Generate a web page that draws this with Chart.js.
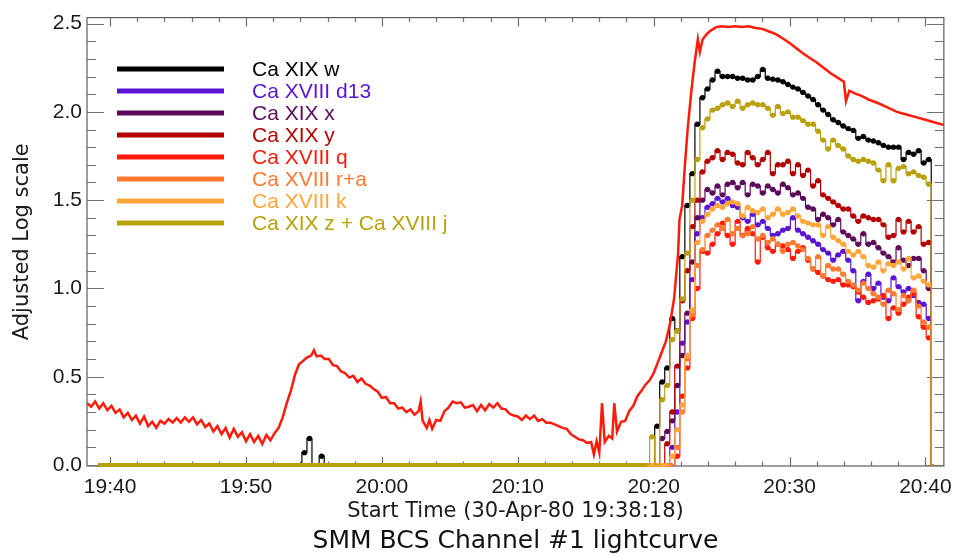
<!DOCTYPE html>
<html>
<head>
<meta charset="utf-8">
<script src="https://cdn.jsdelivr.net/npm/chart.js@4.4.1/dist/chart.umd.min.js"></script>
<style>
  html, body { margin: 0; padding: 0; background: #fff; }
  canvas { display: block; }
</style>
</head>
<body>
<canvas id="lightcurve" width="961" height="554"></canvas>
<script>
// all times are minutes after 19:00 UT
const binTimes = [
  79.15, 79.52, 79.89, 80.26, 80.63, 81.00, 81.37, 81.74, 82.11, 82.48,
  82.85, 83.22, 83.59, 83.96, 84.33, 84.70, 85.07, 85.44, 85.81, 86.18,
  86.55, 86.92, 87.29, 87.66, 88.03, 88.40, 88.77, 89.14, 89.51, 89.88,
  90.25, 90.62, 90.99, 91.36, 91.73, 92.10, 92.47, 92.84, 93.21, 93.58,
  93.95, 94.32, 94.69, 95.06, 95.43, 95.80, 96.17, 96.54, 96.91, 97.28,
  97.65, 98.02, 98.39, 98.76, 99.13, 99.50, 99.87, 100.24, 100.61
];

const caXIXw = [
  0, 0, 0, 0.22, 0.47, 0.55, 0.83, 0.76, 1.18, 1.47,
  1.65, 1.93, 2.08, 2.13, 2.18, 2.23, 2.20, 2.20, 2.20, 2.19,
  2.19, 2.18, 2.18, 2.20, 2.24, 2.19, 2.185, 2.18, 2.17, 2.155,
  2.14, 2.13, 2.11, 2.09, 2.07, 2.04, 2.01, 1.985, 1.955, 1.94,
  1.92, 1.905, 1.895, 1.85, 1.86, 1.84, 1.835, 1.825, 1.81, 1.80,
  1.80, 1.80, 1.73, 1.77, 1.76, 1.78, 1.71, 1.73, 0
];
const caXVIIId13 = [
  0, 0, 0, 0, 0, 0, 0.10, 0.30, 0.69, 0.81,
  1.05, 1.31, 1.40, 1.46, 1.48, 1.51, 1.49, 1.51, 1.47, 1.46,
  1.40, 1.38, 1.42, 1.36, 1.38, 1.34, 1.30, 1.31, 1.33, 1.34,
  1.40, 1.33, 1.31, 1.29, 1.27, 1.25, 1.22, 1.20, 1.16, 1.19,
  1.21, 1.16, 1.10, 0.93, 1.04, 1.08, 1.00, 1.03, 0.95, 0.93,
  1.06, 1.01, 0.98, 1.00, 0.96, 0.92, 0.91, 0.83, 0
];
const caXIXx = [
  0, 0, 0, 0, 0.15, 0.19, 0.25, 0.45, 0.62, 0.86,
  1.15, 1.40, 1.50, 1.56, 1.54, 1.58, 1.53, 1.59, 1.60, 1.57,
  1.60, 1.53, 1.59, 1.58, 1.54, 1.58, 1.56, 1.54, 1.59, 1.57,
  1.53, 1.54, 1.51, 1.46, 1.45, 1.39, 1.42, 1.40, 1.36, 1.39,
  1.32, 1.30, 1.28, 1.25, 1.31, 1.25, 1.26, 1.23, 1.20, 1.18,
  1.15, 1.23, 1.16, 1.13, 1.17, 1.17, 1.10, 1.00, 0
];
const caXIXy = [
  0, 0, 0, 0, 0, 0.12, 0.30, 0.56, 0.93, 1.10,
  1.35, 1.50, 1.66, 1.72, 1.74, 1.78, 1.73, 1.77, 1.76, 1.71,
  1.70, 1.77, 1.74, 1.70, 1.73, 1.77, 1.65, 1.70, 1.70, 1.72,
  1.65, 1.70, 1.64, 1.67, 1.58, 1.61, 1.53, 1.51, 1.49, 1.47,
  1.45, 1.45, 1.41, 1.38, 1.41, 1.40, 1.39, 1.39, 1.36, 1.29,
  1.30, 1.39, 1.32, 1.38, 1.32, 1.35, 1.25, 1.26, 0
];
const caXVIIIq = [
  0, 0, 0, 0, 0, 0, 0, 0.05, 0.39, 0.55,
  0.83, 1.00, 1.21, 1.20, 1.25, 1.31, 1.37, 1.30, 1.25, 1.38,
  1.30, 1.34, 1.31, 1.15, 1.29, 1.23, 1.21, 1.25, 1.24, 1.22,
  1.17, 1.21, 1.23, 1.16, 1.11, 1.09, 1.07, 1.05, 1.04, 1.05,
  1.02, 1.02, 1.01, 0.98, 0.95, 0.92, 0.93, 0.94, 0.96, 0.83,
  0.89, 0.86, 0.91, 0.95, 0.97, 0.84, 0.78, 0.72, 0
];
const caXVIIIra = [
  0, 0, 0, 0, 0, 0, 0, 0.10, 0.30, 0.60,
  0.85, 1.13, 1.22, 1.30, 1.33, 1.36, 1.34, 1.39, 1.31, 1.34,
  1.30, 1.31, 1.35, 1.28, 1.30, 1.26, 1.28, 1.25, 1.21, 1.25,
  1.26, 1.24, 1.22, 1.17, 1.11, 1.18, 1.07, 1.13, 1.11, 1.11,
  1.08, 1.04, 1.02, 0.99, 1.03, 1.00, 0.97, 0.95, 0.91, 0.99,
  0.97, 0.88, 0.96, 0.93, 0.99, 0.90, 0.81, 0.78, 0
];
const caXVIIIk = [
  0, 0, 0, 0, 0, 0, 0.05, 0.20, 0.34, 0.62,
  0.88, 1.26, 1.38, 1.42, 1.45, 1.47, 1.46, 1.48, 1.49, 1.48,
  1.41, 1.46, 1.44, 1.43, 1.45, 1.40, 1.42, 1.45, 1.42, 1.43,
  1.45, 1.41, 1.38, 1.37, 1.36, 1.36, 1.30, 1.35, 1.29, 1.27,
  1.25, 1.21, 1.19, 1.21, 1.18, 1.13, 1.12, 1.15, 1.10, 1.14,
  1.13, 1.15, 1.11, 1.17, 1.06, 1.07, 1.04, 1.02, 0
];
const caXIXzj = [
  0, 0, 0.16, 0, 0.37, 0.45, 0.71, 0.76, 0.94, 1.20,
  1.50, 1.73, 1.91, 1.96, 2.01, 2.02, 2.04, 2.05, 2.03, 2.06,
  2.02, 2.04, 2.05, 2.04, 2.04, 2.02, 1.98, 2.03, 1.99, 2.00,
  1.97, 1.97, 1.95, 1.93, 1.93, 1.89, 1.84, 1.79, 1.84, 1.81,
  1.79, 1.75, 1.73, 1.72, 1.73, 1.72, 1.71, 1.67, 1.61, 1.70,
  1.61, 1.68, 1.69, 1.65, 1.66, 1.64, 1.63, 1.59, 0
];

const lineLabels = ['Ca XIX w', 'Ca XVIII d13', 'Ca XIX x', 'Ca XIX y',
  'Ca XVIII q', 'Ca XVIII r+a', 'Ca XVIII k', 'Ca XIX z + Ca XVIII j'];
const lineColors = ['#000000', '#5a14d6', '#5c0b5c', '#b30000',
  '#ff1a0a', '#ff7a30', '#ffa63a', '#b9a10c'];
const lineSeries = [caXIXw, caXVIIId13, caXIXx, caXIXy,
  caXVIIIq, caXVIIIra, caXVIIIk, caXIXzj];

// counts seen in w before the flare, and where the series begin
const seriesStart = 39.16;
const wEarlyTimes = [53.93, 54.30, 54.67, 55.04, 55.20, 55.57, 55.94];
const wEarlyVals = [0, 0.07, 0.15, 0, 0, 0.05, 0];

// the continuous red curve
const contTimes = [
  38.3, 38.6, 38.9, 39.2, 39.5, 39.8, 40.1, 40.4, 40.7, 41.0,
  41.3, 41.6, 41.9, 42.2, 42.5, 42.8, 43.1, 43.4, 43.7, 44.0,
  44.3, 44.6, 44.9, 45.2, 45.5, 45.8, 46.1, 46.4, 46.7, 47.0,
  47.3, 47.6, 47.9, 48.2, 48.5, 48.8, 49.1, 49.4, 49.7, 50.0,
  50.3, 50.6, 50.9, 51.2, 51.5, 51.8, 52.1, 52.4, 52.7, 53.0,
  53.3, 53.6, 53.9, 54.2, 54.5, 54.8, 55.0, 55.2, 55.5, 55.8,
  56.1, 56.4, 56.7, 57.0, 57.3, 57.6, 57.9, 58.2, 58.5, 58.8,
  59.1, 59.4, 59.7, 60.0, 60.3, 60.6, 60.9, 61.2, 61.5, 61.8,
  62.1, 62.4, 62.7, 62.85, 63.0, 63.3, 63.5, 63.7, 64.0, 64.3,
  64.6, 64.9, 65.2, 65.5, 65.8, 66.1, 66.4, 66.7, 67.0, 67.3,
  67.6, 67.9, 68.2, 68.5, 68.8, 69.1, 69.4, 69.7, 70.0, 70.3,
  70.6, 70.9, 71.2, 71.5, 71.8, 72.1, 72.4, 72.7, 73.0, 73.3,
  73.6, 73.9, 74.2, 74.5, 74.8, 75.1, 75.4, 75.6, 75.8, 76.0,
  76.2, 76.4, 76.7, 76.95, 77.1, 77.3, 77.6, 77.9, 78.2, 78.5,
  78.8, 79.1, 79.4, 79.7, 80.0, 80.3, 80.6, 80.9, 81.2, 81.5,
  81.8, 81.9, 82.1, 82.3, 82.5, 82.75, 83.0, 83.25, 83.4, 83.6,
  83.9, 84.2, 84.6, 85.0, 85.5, 86.0, 86.5, 87.0, 87.5, 88.0,
  88.5, 89.0, 89.5, 90.0, 90.5, 91.0, 91.5, 92.0, 92.5, 93.0,
  93.5, 94.0, 94.15, 94.4, 94.8, 95.3, 95.8, 96.5, 97.2, 97.9,
  98.6, 99.3, 100.0, 100.7, 101.4
];
const contVals = [
  0.35, 0.33, 0.36, 0.32, 0.35, 0.31, 0.335, 0.295, 0.315, 0.27,
  0.295, 0.255, 0.28, 0.235, 0.275, 0.22, 0.245, 0.21, 0.25, 0.235,
  0.26, 0.24, 0.265, 0.24, 0.27, 0.245, 0.27, 0.23, 0.255, 0.215,
  0.235, 0.19, 0.22, 0.175, 0.21, 0.155, 0.205, 0.16, 0.185, 0.135,
  0.175, 0.13, 0.165, 0.12, 0.17, 0.14, 0.18, 0.21, 0.27, 0.35,
  0.42, 0.51, 0.57, 0.59, 0.61, 0.62, 0.65, 0.615, 0.62, 0.6,
  0.6, 0.565, 0.56, 0.53, 0.52, 0.495, 0.505, 0.47, 0.49, 0.46,
  0.45, 0.43, 0.415, 0.38, 0.385, 0.35, 0.35, 0.32, 0.325, 0.3,
  0.315, 0.285, 0.305, 0.36, 0.25, 0.21, 0.255, 0.205, 0.255, 0.25,
  0.305, 0.325, 0.36, 0.35, 0.355, 0.325, 0.33, 0.34, 0.305, 0.34,
  0.31, 0.345, 0.325, 0.35, 0.32, 0.315, 0.29, 0.28, 0.275, 0.255,
  0.28, 0.26, 0.28, 0.25, 0.26, 0.24, 0.24, 0.23, 0.22, 0.21,
  0.205, 0.175, 0.16, 0.145, 0.14, 0.125, 0.13, 0.06, 0.135, 0.07,
  0.35, 0.13, 0.165, 0.15, 0.35, 0.19, 0.245, 0.25, 0.305, 0.335,
  0.39, 0.42, 0.455, 0.48, 0.52, 0.58, 0.64, 0.7, 0.8, 0.94,
  1.2, 1.39, 1.47, 1.7, 1.9, 2.1, 2.27, 2.41, 2.34, 2.41,
  2.44, 2.46, 2.48, 2.485, 2.48, 2.485, 2.48, 2.485, 2.475, 2.47,
  2.455, 2.44, 2.415, 2.39, 2.36, 2.33, 2.305, 2.28, 2.25, 2.22,
  2.195, 2.17, 2.06, 2.12, 2.105, 2.09, 2.07, 2.05, 2.025, 2.0,
  1.985, 1.97, 1.955, 1.94, 1.925
];

const xTicks = [40, 50, 60, 70, 80, 90, 100];
const yTicks = [0, 0.5, 1.0, 1.5, 2.0, 2.5];

const tickFont = { family: '"Liberation Sans", Arial, sans-serif', size: 21 };
const titleFamily = '"DejaVu Sans", sans-serif';

// IDL style box with inward ticks on all four sides
const framePlugin = {
  id: 'idlFrame',
  beforeDatasetsDraw(chart) {
    const { ctx, chartArea: a, scales: { x, y } } = chart;
    ctx.save();
    ctx.strokeStyle = '#5c5c5c';
    ctx.lineWidth = 1.2;
    ctx.strokeRect(a.left, a.top, a.right - a.left, a.bottom - a.top);
    ctx.beginPath();
    for (let m = 40; m <= 100; m += 2) {
      const px = Math.round(x.getPixelForValue(m)) + 0.5;
      const len = m % 10 === 0 ? 9 : 4.5;
      ctx.moveTo(px, a.bottom); ctx.lineTo(px, a.bottom - len);
      ctx.moveTo(px, a.top); ctx.lineTo(px, a.top + len);
    }
    for (let i = 0; i <= 25; i++) {
      const py = Math.round(y.getPixelForValue(i / 10)) + 0.5;
      const len = i % 5 === 0 ? 17 : 9;
      ctx.moveTo(a.left, py); ctx.lineTo(a.left + len, py);
      ctx.moveTo(a.right, py); ctx.lineTo(a.right - len, py);
    }
    ctx.strokeStyle = '#707070';
    ctx.stroke();
    ctx.restore();
  }
};

// legend drawn inside the plot, one coloured row per line
const legendPlugin = {
  id: 'lineLegend',
  afterDatasetsDraw(chart) {
    const ctx = chart.ctx;
    ctx.save();
    ctx.font = '21px "Liberation Sans", Arial, sans-serif';
    ctx.textBaseline = 'middle';
    chart.data.datasets.forEach(ds => {
      if (ds.legendRow === undefined) return;
      const yy = 69 + 22 * ds.legendRow;
      ctx.strokeStyle = ds.borderColor;
      ctx.lineWidth = 5;
      ctx.beginPath();
      ctx.moveTo(117, yy);
      ctx.lineTo(224, yy);
      ctx.stroke();
      ctx.fillStyle = ds.borderColor;
      ctx.fillText(ds.label, 252, yy + 1);
    });
    ctx.restore();
  }
};

const stepSets = lineLabels.map((label, i) => {
  const pts = [{ x: seriesStart, y: 0 }];
  if (i === 0) {
    wEarlyTimes.forEach((t, k) => pts.push({ x: t, y: wEarlyVals[k] }));
  }
  binTimes.forEach((t, k) => pts.push({ x: t, y: lineSeries[i][k] }));
  return {
    label,
    data: pts,
    legendRow: i,
    order: lineLabels.length - i,
    stepped: 'middle',
    borderColor: lineColors[i],
    backgroundColor: lineColors[i],
    borderWidth: 1.2,
    segment: {
      borderWidth: c => (c.p0.parsed.y === 0 && c.p1.parsed.y === 0) ? 4 : 1.2
    },
    pointRadius: c => (c.raw && c.raw.y !== 0) ? 2.7 : 0,
    pointBorderWidth: 0,
    pointBackgroundColor: lineColors[i],
    clip: 4
  };
});

const contSet = {
  label: 'Channel #1 total',
  data: contTimes.map((t, k) => ({ x: t, y: contVals[k] })),
  order: -1,
  borderColor: '#ff1a0a',
  borderWidth: 2.5,
  pointRadius: 0,
  tension: 0
};

new Chart(document.getElementById('lightcurve'), {
  type: 'line',
  data: { datasets: [contSet, ...stepSets] },
  options: {
    responsive: false,
    animation: false,
    events: [],
    layout: { padding: { left: 0, right: 13, top: 14, bottom: 0 } },
    plugins: {
      legend: { display: false },
      tooltip: { enabled: false },
      title: {
        display: true,
        position: 'bottom',
        fullSize: false,
        text: 'SMM BCS Channel #1 lightcurve',
        color: '#111',
        font: { family: titleFamily, size: 25, weight: 'normal', lineHeight: 1 },
        padding: { top: 0, bottom: 0.5 }
      }
    },
    scales: {
      x: {
        type: 'linear',
        min: 38.3,
        max: 101.355,
        afterBuildTicks: s => { s.ticks = xTicks.map(v => ({ value: v })); },
        afterFit: s => { s.height = 62.5; },
        grid: { display: false, drawTicks: false },
        border: { display: false },
        ticks: {
          font: tickFont,
          color: '#1a1a1a',
          padding: 9,
          maxRotation: 0,
          autoSkip: false,
          callback: v => (19 + Math.floor(v / 60)) + ':' + String(v % 60).padStart(2, '0')
        },
        title: {
          display: true,
          text: 'Start Time (30-Apr-80 19:38:18)',
          color: '#1a1a1a',
          font: { family: titleFamily, size: 21, lineHeight: 1 },
          padding: { top: 0, bottom: 6 }
        }
      },
      y: {
        min: -0.0056,
        max: 2.5337,
        afterBuildTicks: s => { s.ticks = yTicks.map(v => ({ value: v })); },
        afterFit: s => { s.width = 87; },
        grid: { display: false, drawTicks: false },
        border: { display: false },
        ticks: {
          font: tickFont,
          color: '#1a1a1a',
          padding: 5,
          callback: v => v.toFixed(1)
        },
        title: {
          display: true,
          text: 'Adjusted Log scale',
          color: '#1a1a1a',
          font: { family: titleFamily, size: 21, lineHeight: 1 },
          padding: { top: 12, bottom: 0 }
        }
      }
    }
  },
  plugins: [framePlugin, legendPlugin]
});
</script>
</body>
</html>
